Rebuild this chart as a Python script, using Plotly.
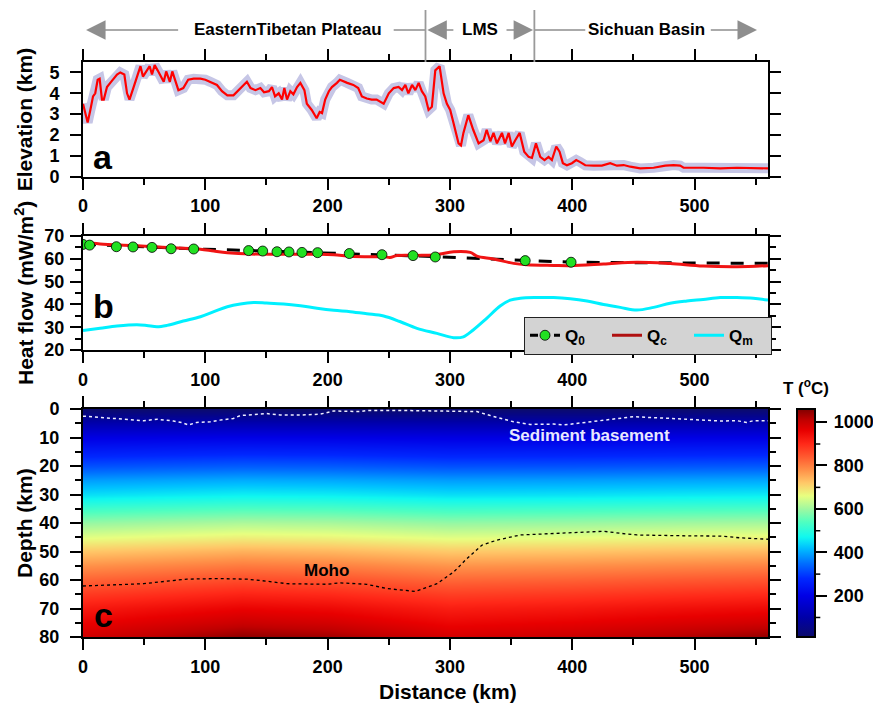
import plotly.graph_objects as go

FONT = "Liberation Sans, Arial, Helvetica, sans-serif"

# ---------------- data ----------------
# (a) topography along profile
elev_x = [0, 1.9, 3.8, 6, 8.2, 10, 12, 13.6, 15.5, 17, 19.6, 22.3, 25, 27.8, 30.5, 33.8, 36, 38, 41.4, 44,
          47, 49, 52, 54.5, 56.4, 58.6, 61, 63, 66, 68, 71, 73, 75.5, 78, 82, 86, 90.5, 96, 100, 104,
          109.5, 113.6, 118, 123, 127, 134, 137, 141, 145, 148, 152, 154.5, 157, 160, 162.7, 164.6, 166.8,
          169.5, 172, 175, 177.7, 181, 183, 187, 191, 193.5, 195.4, 198, 201, 203.5, 207.6, 210, 216, 221,
          225, 228, 232, 236, 240, 245.8, 250, 254, 258, 260.8, 263.5, 266, 269, 271.7, 274.4, 277, 279.8,
          282.5, 285.2, 288, 291.5, 294.8, 297.5, 300.2, 303, 307, 309, 311, 315, 319, 323.4, 327.5, 330,
          333, 335.6, 338.4, 342.5, 345, 348, 350.6, 353.4, 357, 360.7, 364.3, 367, 370.3, 373.8, 377.3,
          380.6, 383.3, 386.9, 389.6, 392.3, 395.6, 399.7, 403.2, 406.5, 410.6, 417.4, 424.2, 431, 436.5,
          442, 447.4, 455.5, 466.5, 476, 482.8, 488.2, 491, 507.3, 521, 534.6, 548.2, 560]
elev_km = [3.5, 3.0, 2.6, 3.2, 3.85, 4.0, 4.65, 4.7, 3.7, 3.7, 4.3, 4.5, 4.7, 4.9, 5.0, 4.9, 4.0, 3.7, 4.3, 4.8,
           5.3, 4.8, 5.05, 5.3, 4.9, 5.35, 5.1, 4.9, 4.55, 5.05, 4.55, 5.05, 4.65, 4.15, 4.25, 4.65, 4.7, 4.7,
           4.65, 4.55, 4.4, 4.1, 3.9, 3.9, 4.15, 4.55, 4.25, 4.15, 4.25, 4.05, 4.1, 4.3, 3.85, 4.0, 3.7, 4.25,
           3.7, 4.1, 3.95, 4.3, 4.5, 4.15, 3.5, 3.2, 2.8, 3.1, 3.05, 3.7, 4.1, 4.3, 4.5, 4.65, 4.5, 4.4, 4.25,
           3.85, 3.75, 3.7, 3.7, 3.5, 4.0, 4.25, 4.3, 4.15, 4.4, 4.0, 4.4, 4.15, 4.5, 4.1, 3.85, 3.2, 3.35,
           5.1, 5.3, 4.0, 3.5, 3.2, 2.55, 1.6, 1.5, 2.1, 2.95, 2.25, 1.6, 1.75, 2.25, 1.7, 2.1, 1.6, 2.1, 1.6,
           2.1, 1.45, 1.75, 2.1, 1.2, 0.95, 0.9, 1.6, 0.95, 0.8, 0.95, 0.8, 1.45, 1.2, 0.65, 0.55, 0.65, 0.8,
           0.7, 0.55, 0.53, 0.53, 0.65, 0.53, 0.56, 0.48, 0.4, 0.43, 0.53, 0.56, 0.53, 0.43, 0.43, 0.4, 0.43,
           0.4, 0.4]

# (b) heat flow
q0_site_x = [0, 5.4, 27.3, 40.9, 56.4, 72, 90.5, 135.4, 146.9, 158.6, 168.4, 179, 191.8, 217.7, 244.4,
             269.8, 288, 361.5, 399]
q0_site_val = [66.3, 66.0, 65.3, 65.2, 65.0, 64.4, 64.3, 63.6, 63.4, 63.1, 63.0, 62.8, 62.7, 62.3, 61.8,
               61.4, 60.8, 59.2, 58.5]
q0_trend_x = [0, 50, 100, 150, 200, 250, 290, 330, 362, 400, 450, 500, 560]
q0_trend_val = [66.4, 65.2, 64.2, 63.4, 62.6, 61.8, 60.9, 60.0, 59.2, 58.5, 58.3, 58.2, 58.0]
qc_x = [0, 14, 41, 68.7, 82, 96, 107, 118, 137, 164, 191, 205, 218.5, 232, 246, 251, 256.7, 273, 286.7,
        292, 303, 316.6, 322, 335.6, 352, 363, 384.7, 398.3, 425.6, 452.8, 480, 507, 534.6, 560]
qc_val = [67.1, 66.5, 65.8, 65.0, 64.6, 64.2, 63.4, 62.7, 62.1, 62.0, 62.0, 61.8, 61.1, 60.9, 60.9, 60.6,
          61.4, 61.5, 61.7, 62.1, 63.1, 62.8, 61.2, 59.9, 58.0, 57.4, 57.1, 57.0, 57.7, 58.5, 57.9, 56.8,
          56.5, 57.0]
qm_x = [0, 14, 27.8, 44, 52, 60.5, 68.7, 82, 96, 107, 118, 128.6, 139.5, 150, 164, 177.7, 191.3, 205,
        218.5, 232, 245.8, 259, 273, 289.3, 303, 311, 319, 330, 341, 349.3, 357.5, 371, 384.7, 398.3, 412,
        425.6, 439.2, 452.8, 466.5, 480, 493.7, 507, 521, 534.6, 548, 560]
qm_val = [28.5, 29.5, 30.5, 31.1, 30.8, 30.2, 30.8, 32.7, 34.6, 36.8, 39.0, 40.2, 40.8, 40.6, 40.2, 39.4,
          38.3, 37.4, 36.8, 35.9, 34.9, 32.5, 29.5, 27.3, 25.4, 25.8, 28.8, 33.9, 39.3, 41.9, 42.7, 43.0,
          43.0, 42.5, 41.5, 40.0, 38.7, 37.5, 38.7, 40.5, 41.5, 42.2, 43.0, 43.0, 42.7, 41.9]

# (c) thermal structure: temperature (deg C) columns at distance temp_x, rows at temp_depth
temp_depth = [0, 5, 10, 15, 20, 25, 30, 35, 40, 45, 50, 55, 60, 65, 70, 75, 80]
temp_x = [0, 60, 130, 200, 300, 400, 480, 560]
temp_cols = [
    [15, 110, 200, 260, 320, 390, 450, 525, 595, 655, 720, 780, 830, 878, 922, 958, 990],
    [15, 112, 203, 265, 326, 396, 458, 533, 604, 665, 731, 792, 843, 892, 938, 977, 1015],
    [15, 115, 206, 270, 332, 403, 466, 542, 614, 676, 744, 806, 858, 908, 956, 998, 1050],
    [15, 114, 205, 268, 330, 400, 463, 539, 610, 671, 738, 800, 851, 900, 947, 988, 1035],
    [15, 110, 200, 260, 320, 390, 450, 524, 594, 653, 718, 777, 826, 873, 916, 952, 985],
    [15, 111, 201, 262, 322, 392, 453, 528, 598, 658, 723, 783, 833, 881, 925, 963, 998],
    [15, 112, 203, 265, 326, 396, 458, 533, 604, 665, 730, 791, 842, 891, 937, 977, 1018],
    [15, 113, 204, 267, 329, 399, 462, 537, 608, 669, 735, 797, 849, 899, 946, 990, 1045],
]
sed_x = [0, 14, 27.8, 49.6, 60.5, 74, 81, 86.4, 93, 104, 112, 123, 128.6, 139.5, 150, 161, 177.7, 194,
         205, 226.7, 232, 259, 275.7, 297.5, 322, 333, 352, 365.6, 384.7, 392.9, 420, 450, 480, 521, 534.6,
         542.7, 548, 560]
sed_depth = [2.5, 2.9, 3.5, 4.1, 3.6, 4.2, 4.8, 5.6, 4.7, 4.5, 3.9, 3.3, 2.3, 1.9, 1.6, 2.1, 2.1, 1.8, 0.7,
             0.9, 0.5, 0.5, 0.6, 0.6, 0.9, 2.3, 4.5, 5.4, 5.3, 5.6, 4.2, 2.7, 3.3, 4.2, 4.1, 4.7, 4.1, 4.1]
moho_x = [0, 27.8, 49.6, 68.7, 85, 109.5, 134, 150, 166.8, 199.5, 210, 232, 248.5, 271.7, 289.3, 303,
          313.8, 326, 338.4, 357.5, 384.7, 398.3, 425.6, 439.2, 452.8, 493.7, 521, 537.3, 560]
moho_depth = [62.1, 61.8, 61.3, 60.4, 59.7, 59.5, 59.7, 60.4, 61.3, 61.5, 61.0, 61.5, 63.0, 64.0, 61.3,
              57.2, 52.5, 47.8, 46.0, 44.2, 43.7, 43.2, 42.9, 43.6, 44.2, 44.5, 44.6, 45.2, 45.7]

# tick values / labels
dist_ticks = [0, 100, 200, 300, 400, 500]
elev_ticks = [0, 1, 2, 3, 4, 5]
hf_ticks = [20, 30, 40, 50, 60, 70]
depth_ticks = [0, 10, 20, 30, 40, 50, 60, 70, 80]
cbar_major = [200, 400, 600, 800, 1000]
cbar_minor = [100, 300, 500, 700, 900]
T_MIN, T_MAX = 10, 1060

# provinces along the profile (km)
province_names = ["EasternTibetan Plateau", "LMS", "Sichuan Basin"]
province_bounds = [280, 369]

# ---------------- style ----------------
GRAY = "#8e8e8e"
colorscale = [
    [0.000, "#0b0b6b"], [0.086, "#0000a8"], [0.181, "#0000e6"], [0.257, "#0028ff"],
    [0.324, "#0070ff"], [0.390, "#00c0ff"], [0.438, "#10f8f0"], [0.505, "#50ffc0"],
    [0.562, "#a0f8a0"], [0.619, "#e8ff80"], [0.676, "#ffc868"], [0.733, "#ff9048"],
    [0.790, "#ff5a30"], [0.848, "#ff2818"], [0.905, "#e80000"], [0.952, "#c00000"],
    [1.000, "#800000"],
]


def bold(vals):
    return ["<b>%s</b>" % v for v in vals]


fig = go.Figure()

# (a)
fig.add_trace(go.Scatter(x=elev_x, y=elev_km, mode="lines", xaxis="x", yaxis="y",
                         line=dict(color="#c6c6e6", width=10), showlegend=False, hoverinfo="skip"))
fig.add_trace(go.Scatter(x=elev_x, y=elev_km, mode="lines", xaxis="x", yaxis="y",
                         line=dict(color="#ff0000", width=2.2), showlegend=False))

# (b)
fig.add_trace(go.Scatter(x=qm_x, y=qm_val, mode="lines", xaxis="x2", yaxis="y2",
                         line=dict(color="#00f0ff", width=3, shape="spline"), showlegend=False))
fig.add_trace(go.Scatter(x=q0_trend_x, y=q0_trend_val, mode="lines", xaxis="x2", yaxis="y2",
                         line=dict(color="black", width=3, dash="13px,11px"), showlegend=False))
fig.add_trace(go.Scatter(x=qc_x, y=qc_val, mode="lines", xaxis="x2", yaxis="y2",
                         line=dict(color="#f01414", width=3, shape="spline"), showlegend=False))
fig.add_trace(go.Scatter(x=q0_site_x, y=q0_site_val, mode="markers", xaxis="x2", yaxis="y2",
                         marker=dict(color="#22e022", size=10, line=dict(color="black", width=0.8)),
                         showlegend=False))
# legend entries
fig.add_trace(go.Scatter(x=[None], y=[None], mode="lines+markers", xaxis="x2", yaxis="y2",
                         name="<b>Q<sub>0</sub></b>",
                         line=dict(color="black", width=3, dash="8px,4px"),
                         marker=dict(color="#22e022", size=10, line=dict(color="black", width=0.8))))
fig.add_trace(go.Scatter(x=[None], y=[None], mode="lines", xaxis="x2", yaxis="y2",
                         name="<b>Q<sub>c</sub></b>", line=dict(color="#b01010", width=3)))
fig.add_trace(go.Scatter(x=[None], y=[None], mode="lines", xaxis="x2", yaxis="y2",
                         name="<b>Q<sub>m</sub></b>", line=dict(color="#00f0ff", width=3)))

# (c)
temp_z = [list(row) for row in zip(*temp_cols)]
tickfont = dict(family=FONT, size=18, color="black")
fig.add_trace(go.Heatmap(
    x=temp_x, y=temp_depth, z=temp_z, xaxis="x3", yaxis="y3", zsmooth="best",
    colorscale=colorscale, zmin=T_MIN, zmax=T_MAX, showlegend=False,
    colorbar=dict(thickness=17.6, thicknessmode="pixels", len=227.7, lenmode="pixels",
                  x=1.0419, xanchor="left", y=0, yanchor="bottom", xpad=0, ypad=0,
                  outlinewidth=2, outlinecolor="black",
                  tickvals=cbar_major, ticktext=["\u2009" + t for t in bold(cbar_major)],
                  ticks="outside", ticklen=11,
                  tickwidth=1.5, tickcolor="black", tickfont=tickfont)))
fig.add_trace(go.Scatter(x=sed_x, y=sed_depth, mode="lines", xaxis="x3", yaxis="y3",
                         line=dict(color="#eeeeff", width=1.5, dash="dot"), showlegend=False))
fig.add_trace(go.Scatter(x=moho_x, y=moho_depth, mode="lines", xaxis="x3", yaxis="y3",
                         line=dict(color="black", width=1.3, dash="dot"), showlegend=False))

common = dict(showline=True, linewidth=2, linecolor="black", mirror="ticks", ticks="outside",
              ticklen=11, tickwidth=1.5, tickcolor="black", showgrid=False, zeroline=False,
              tickfont=tickfont, ticklabelstandoff=6, tickmode="array")
minor5 = dict(dtick=5, tick0=0, ticklen=6, tickwidth=1.5, ticks="outside", tickcolor="black")
xcommon = dict(common, range=[0, 560], tickvals=dist_ticks, ticktext=bold(dist_ticks), ticklabelstandoff=1,
               minor=dict(dtick=50, tick0=0, ticklen=6, tickwidth=1.5, ticks="outside", tickcolor="black"))

fig.update_layout(
    width=873, height=705, margin=dict(l=83, r=105, t=62, b=68, autoexpand=False),
    paper_bgcolor="white", plot_bgcolor="white",
    font=dict(family=FONT, size=17, color="black"),
    xaxis=dict(xcommon, anchor="y", domain=[0, 1]),
    yaxis=dict(common, anchor="x", domain=[0.8005, 1.0], range=[0, 5.5], ticklabelstandoff=7,
               tickvals=elev_ticks, ticktext=bold(elev_ticks)),
    xaxis2=dict(xcommon, anchor="y2", domain=[0, 1]),
    yaxis2=dict(common, anchor="x2", domain=[0.4991, 0.6974], range=[20, 70], ticklabelstandoff=2,
                tickvals=hf_ticks, ticktext=bold(hf_ticks), minor=minor5),
    xaxis3=dict(xcommon, anchor="y3", domain=[0, 1]),
    yaxis3=dict(common, anchor="x3", domain=[0, 0.3965], range=[80, 0], ticklabelstandoff=7,
                tickvals=depth_ticks, ticktext=bold(depth_ticks), minor=minor5),
    legend=dict(orientation="h", x=0.6438, y=0.557, xanchor="left", yanchor="top",
                bgcolor="#d3d3d3", bordercolor="#222222", borderwidth=1,
                font=dict(family=FONT, size=17, color="black"),
                entrywidth=37, entrywidthmode="pixels", itemwidth=30),
)

HY = (637 - 30) / 575.0
BAR_TOP = (637 - 10) / 575.0
ann = []
shapes = []


def btxt(s):
    return "<b>%s</b>" % s


def label(**kw):
    d = dict(showarrow=False, xanchor="center", yanchor="middle")
    d.update(kw)
    return d


# province labels
ann.append(label(x=167.4, y=HY, xref="x", yref="paper", text=btxt(province_names[0]), font=dict(size=17)))
ann.append(label(x=(province_bounds[0] + province_bounds[1]) / 2, y=HY, xref="x", yref="paper",
                 text=btxt(province_names[1]), font=dict(size=17)))
ann.append(label(x=461, y=HY, xref="x", yref="paper", text=btxt(province_names[2]), font=dict(size=17)))
arrow = dict(xref="x", yref="paper", axref="x", ayref="pixel", ay=0, text="", showarrow=True,
             arrowhead=2, arrowsize=2.6, arrowwidth=1.5, arrowcolor=GRAY)
ann.append(dict(arrow, x=2.5, y=HY, ax=79))
ann.append(dict(arrow, x=province_bounds[0] + 1.5, y=HY, ax=304))
ann.append(dict(arrow, x=province_bounds[1] - 1, y=HY, ax=345))
ann.append(dict(arrow, x=551, y=HY, ax=512))
shapes.append(dict(type="line", xref="x", yref="paper", x0=254, x1=province_bounds[0], y0=HY, y1=HY,
                   line=dict(color=GRAY, width=1.5)))
shapes.append(dict(type="line", xref="x", yref="paper", x0=province_bounds[1], x1=410.6, y0=HY, y1=HY,
                   line=dict(color=GRAY, width=1.5)))
for b in province_bounds:
    shapes.append(dict(type="line", xref="x", yref="paper", x0=b, x1=b, y0=1.0, y1=BAR_TOP,
                       line=dict(color="#9a9a9a", width=1.8)))

# panel letters
ann.append(label(x=16.5, y=0.94, xref="x", yref="y", text=btxt("a"), font=dict(size=34)))
ann.append(label(x=16.5, y=39.1, xref="x2", yref="y2", text=btxt("b"), font=dict(size=34)))
ann.append(label(x=16.5, y=72.4, xref="x3", yref="y3", text=btxt("c"), font=dict(size=34)))
# labels in (c)
ann.append(label(x=199, y=56.8, xref="x3", yref="y3", text=btxt("Moho"), font=dict(size=17)))
ann.append(label(x=413.7, y=9.4, xref="x3", yref="y3", text=btxt("Sediment basement"),
                 font=dict(size=17, color="#e8e8ff")))
# axis titles
TX = (24 - 83) / 685.0
ann.append(label(x=TX, y=(1.0 + 0.8005) / 2, xref="paper", yref="paper", text=btxt("Elevation (km)"),
                 textangle=-90, font=dict(size=21)))
ann.append(label(x=TX, y=(0.4991 + 0.6974) / 2, xref="paper", yref="paper",
                 text=btxt("Heat flow (mW/m<sup>2</sup>)"), textangle=-90, font=dict(size=21)))
ann.append(label(x=TX, y=0.3965 / 2, xref="paper", yref="paper", text=btxt("Depth (km)"),
                 textangle=-90, font=dict(size=21)))
ann.append(label(x=(447.5 - 83) / 685.0, y=(637 - 691.7) / 575.0, xref="paper", yref="paper",
                 text=btxt("Distance (km)"), font=dict(size=21)))
ann.append(label(x=(806 - 83) / 685.0, y=(637 - 387) / 575.0, xref="paper", yref="paper",
                 text=btxt("T (<sup>o</sup>C)"), font=dict(size=17)))

# colorbar minor ticks
cb_len = 227.7 / 575.0
cb_right = (814.3 - 83) / 685.0
for v in cbar_minor:
    yy = (v - T_MIN) / (T_MAX - T_MIN) * cb_len
    shapes.append(dict(type="line", xref="paper", yref="paper", x0=cb_right, x1=cb_right + 6 / 685.0,
                       y0=yy, y1=yy, line=dict(color="black", width=1.5)))

fig.update_layout(annotations=ann, shapes=shapes)
fig.write_html("out.html", config={"displayModeBar": False},
               post_script="document.body.style.margin='0px';")
